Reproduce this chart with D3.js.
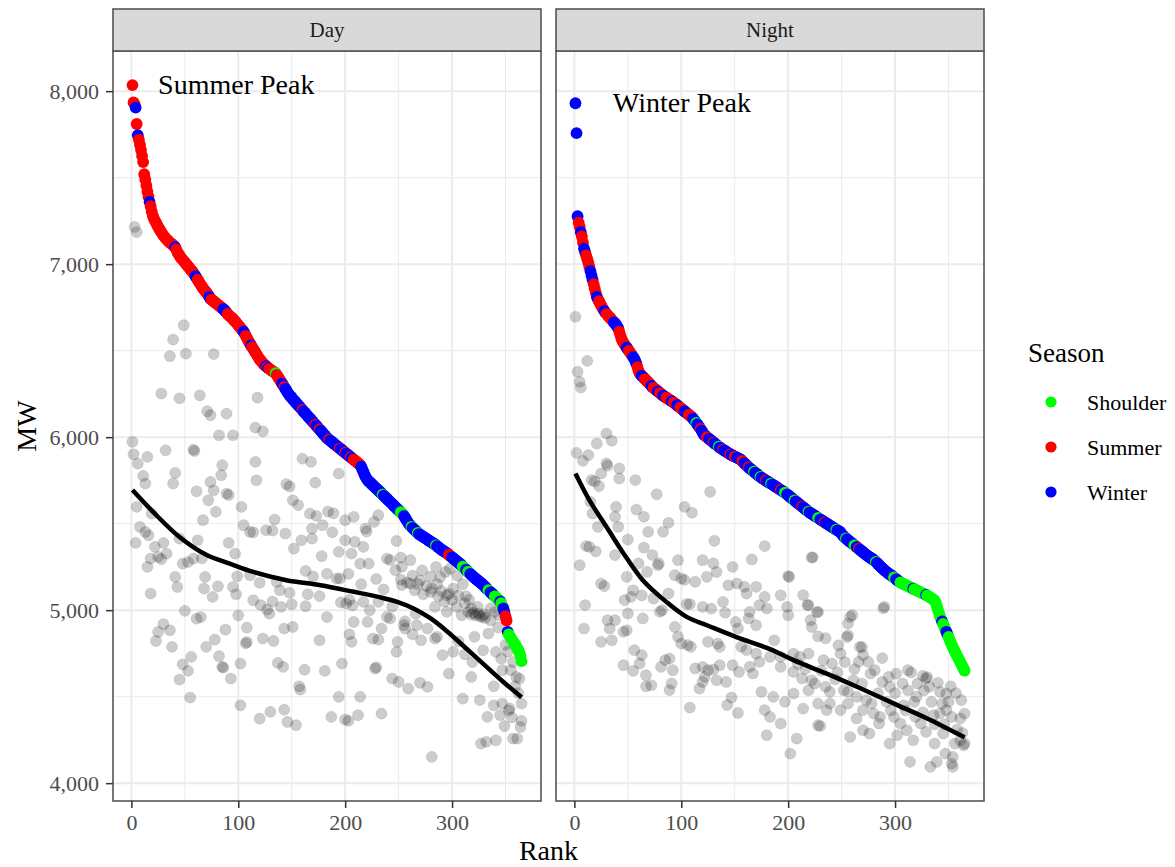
<!DOCTYPE html>
<html>
<head>
<meta charset="utf-8">
<script src="https://cdn.jsdelivr.net/npm/d3@7"></script>
<style>
  body { margin: 0; background: #fff; }
  text { font-family: "Liberation Serif", "Times New Roman", serif; }
</style>
</head>
<body>
<div id="chart"></div>
<script>
// ===== DATA =====
const seasons = ["Shoulder", "Summer", "Winter"];
const seasonCode = { G: "Shoulder", R: "Summer", W: "Winter" };

// sorted daily peak (MW) by rank 1..365
const dayMW = [
  8035,7935,7925,7905,7810,7745,7720,7690,7660,7625,
  7590,7520,7490,7455,7420,7390,7360,7335,7305,7280,
  7265,7250,7240,7228,7215,7205,7195,7185,7175,7165,
  7158,7150,7145,7138,7130,7125,7120,7115,7110,7105,
  7098,7085,7070,7060,7050,7040,7032,7025,7018,7010,
  7002,6995,6988,6980,6972,6965,6958,6950,6940,6930,
  6920,6910,6900,6890,6880,6870,6860,6852,6845,6838,
  6830,6820,6810,6800,6795,6790,6785,6780,6775,6770,
  6765,6760,6755,6750,6745,6740,6735,6728,6720,6712,
  6705,6700,6695,6690,6683,6676,6670,6662,6655,6648,
  6640,6632,6625,6618,6610,6598,6586,6574,6562,6550,
  6540,6530,6520,6510,6500,6490,6480,6470,6460,6450,
  6442,6435,6428,6420,6415,6410,6405,6400,6395,6390,
  6386,6382,6378,6374,6370,6360,6350,6340,6330,6320,
  6310,6300,6290,6280,6270,6260,6250,6242,6235,6228,
  6220,6213,6206,6199,6192,6185,6178,6171,6164,6157,
  6150,6143,6136,6129,6122,6115,6108,6101,6094,6087,
  6080,6073,6066,6059,6052,6045,6038,6031,6024,6017,
  6010,6002,5995,5990,5985,5980,5975,5970,5965,5960,
  5955,5950,5945,5940,5935,5930,5925,5920,5915,5910,
  5905,5900,5895,5890,5885,5880,5875,5870,5865,5860,
  5855,5850,5845,5840,5830,5815,5800,5785,5772,5760,
  5752,5746,5740,5734,5728,5722,5716,5710,5704,5698,
  5692,5686,5680,5674,5668,5662,5656,5650,5644,5638,
  5632,5626,5620,5614,5608,5602,5596,5590,5584,5578,
  5572,5566,5560,5555,5545,5535,5525,5515,5505,5495,
  5488,5482,5476,5470,5464,5458,5452,5446,5440,5436,
  5432,5428,5424,5420,5416,5412,5408,5404,5400,5396,
  5392,5388,5384,5380,5375,5370,5365,5360,5355,5350,
  5346,5342,5338,5334,5330,5325,5320,5315,5310,5305,
  5300,5295,5290,5285,5280,5275,5270,5264,5258,5252,
  5246,5240,5234,5228,5222,5216,5210,5204,5198,5192,
  5187,5182,5177,5172,5167,5162,5157,5152,5146,5140,
  5134,5128,5122,5116,5110,5104,5098,5092,5086,5080,
  5074,5068,5062,5056,5050,5040,5025,5010,4990,4965,
  4940,4875,4860,4850,4840,4830,4820,4810,4800,4790,
  4780,4770,4755,4735,4705
];

const daySeason = [
  "RRRWRWRRRR","RRRRRRWRRR","RRRRRRRRRR","RRRRRRRRRR","WRRRRRRRRR",
  "RRRRRRRRRW","WRRRRRRRRR","RRWWRRRRRR","RRRRRWWWWR","RRRRRRRRRR",
  "RRRRWWRRRR","RWRRRRRRRR","RRRRRWRWRR","RRRRGRRRRR","WWRWWWWWWW",
  "WWWWWWWWWR","WWWWWWWWWW","WRWWWRWWWW","WWWWRWWWWW","WWWWRWWWWR",
  "WWWWRWWRRR","RRRRWWWWWW","WWWWWWWWWW","WWWWGWWWWW","WWWWWWWWWW",
  "WGGGWWWWWW","WGWWWWWGWW","WWWWWWWWWW","WWWWGWWWWW","WWWWWWRRRW",
  "WWWWWWWWWG","GGWWGGWWWW","WWWWWWWWWW","WWWGGWWWWG","GGGGWGGWWR",
  "RWGGGGGGGG","GGGGG"
].join("");

const nightMW = [
  7930,7757,7277,7240,7215,7185,7160,7125,7090,7070,
  7050,7030,7010,6985,6960,6935,6910,6885,6860,6835,
  6810,6798,6786,6774,6762,6750,6740,6730,6720,6713,
  6706,6699,6692,6685,6678,6671,6664,6657,6650,6640,
  6630,6610,6590,6570,6555,6545,6535,6526,6517,6508,
  6499,6490,6481,6472,6463,6454,6440,6425,6405,6385,
  6370,6360,6354,6348,6342,6336,6330,6324,6318,6312,
  6304,6297,6290,6285,6280,6275,6270,6265,6260,6255,
  6250,6245,6240,6236,6232,6228,6224,6220,6216,6212,
  6208,6204,6200,6195,6190,6185,6180,6175,6170,6165,
  6160,6155,6150,6145,6140,6135,6130,6125,6120,6115,
  6107,6099,6091,6083,6075,6066,6057,6048,6038,6027,
  6015,6010,6005,6000,5995,5990,5985,5980,5975,5970,
  5965,5960,5955,5950,5945,5940,5936,5932,5928,5924,
  5920,5916,5912,5908,5904,5900,5897,5894,5891,5888,
  5885,5882,5879,5876,5873,5868,5862,5856,5850,5844,
  5838,5832,5826,5820,5815,5810,5805,5800,5795,5790,
  5785,5780,5775,5770,5766,5762,5758,5754,5750,5746,
  5742,5738,5735,5731,5727,5723,5719,5715,5711,5707,
  5703,5699,5695,5691,5687,5683,5679,5674,5669,5664,
  5659,5654,5649,5644,5639,5634,5629,5624,5619,5614,
  5609,5604,5599,5594,5589,5584,5579,5574,5569,5565,
  5561,5557,5553,5549,5545,5541,5537,5533,5529,5525,
  5521,5517,5513,5509,5505,5501,5497,5493,5489,5485,
  5481,5477,5473,5469,5465,5461,5458,5455,5448,5441,
  5434,5427,5420,5415,5410,5405,5400,5395,5390,5385,
  5380,5375,5370,5365,5360,5355,5350,5345,5340,5335,
  5330,5325,5320,5315,5311,5307,5303,5299,5295,5290,
  5285,5279,5273,5267,5261,5255,5249,5243,5237,5231,
  5226,5221,5216,5211,5207,5203,5199,5194,5189,5184,
  5179,5174,5169,5165,5161,5157,5154,5151,5148,5145,
  5142,5139,5136,5133,5130,5127,5124,5121,5118,5115,
  5112,5109,5106,5103,5100,5097,5094,5091,5088,5085,
  5081,5077,5073,5069,5065,5060,5055,5045,5025,5005,
  4985,4965,4950,4935,4920,4905,4890,4875,4860,4845,
  4830,4815,4800,4786,4772,4760,4748,4736,4724,4712,
  4700,4688,4676,4664,4650
];

const nightSeason = [
  "WWWRRWRRWW","RRRRWWWRRR","WWRRRRRWWR","RRRRRRWWWW","WRRRRRRRWW",
  "RRRRWWWWRR","RRWWWRRRRR","RWWRRRRWWR","RRWWWRRRRR","WWRRRWWWRR",
  "RRWWWWRRRR","WWWGWWWRWW","WWWRRWWWWR","WWWWGWWWRW","WWWWWRWWWR",
  "RWWWWWRRWW","WWRWWWWGWW","WWWGWWWWRW","WWWGWWWWWW","WWRWWWGGWW",
  "WWWWWGWWWW","WWRWWWWWGW","WWWWWWWGGW","WWWRWWWWWW","WWWWGWWWWW",
  "WWWGWWWWWW","WGGWWRWWWW","WWWWWWWWWW","WGWWWWWWWW","WWWWWWWWGG",
  "WWWWGGGGGG","GGGGGGWGGG","GGGGGGGGWG","GGGGGGGGGG","GGGWGGGWWG",
  "GGGGGGGGGG","GGGGG"
].join("");

// grey scatter: [rank, MW]
const dayGray = [
  [3,7215],[5,7185],[49,6647],[39,6564],[36,6468],[51,6483],[77,6480],[28,6252],[45,6225],[64,6242],
  [118,6229],[71,6150],[74,6127],[89,6136],[82,6011],[95,6011],[116,6055],[123,6034],[1,5973],[2,5901],
  [6,5847],[15,5886],[32,5924],[58,5928],[59,5920],[85,5838],[116,5857],[160,5876],[168,5857],[11,5776],
  [13,5732],[41,5793],[39,5732],[84,5780],[74,5741],[77,5693],[61,5687],[89,5674],[91,5666],[117,5751],
  [145,5728],[148,5715],[172,5737],[72,5635],[151,5635],[156,5607],[5,5597],[19,5558],[79,5568],[103,5597],
  [67,5520],[134,5524],[167,5558],[173,5545],[184,5570],[8,5481],[13,5452],[16,5433],[4,5389],[30,5389],
  [45,5414],[62,5404],[91,5389],[105,5491],[111,5452],[114,5450],[126,5462],[132,5460],[144,5443],[159,5404],
  [169,5414],[169,5472],[179,5491],[152,5356],[22,5366],[18,5298],[25,5308],[28,5295],[33,5327],[15,5250],
  [48,5269],[53,5278],[58,5298],[66,5300],[97,5327],[178,5312],[41,5192],[43,5134],[69,5192],[99,5196],
  [111,5202],[120,5158],[136,5163],[163,5227],[170,5196],[183,5210],[18,5096],[68,5125],[81,5138],[76,5077],
  [95,5134],[98,5092],[139,5115],[148,5100],[165,5092],[176,5081],[114,5057],[121,5029],[127,5003],[129,4980],
  [132,5050],[140,5019],[150,5034],[163,5023],[50,4996],[61,4951],[65,4960],[100,4970],[183,4960],[30,4919],
  [36,4884],[25,4874],[23,4822],[38,4788],[70,4788],[78,4830],[88,4888],[108,4899],[108,4816],[107,4808],
  [123,4836],[133,4822],[143,4894],[151,4903],[176,4826],[56,4730],[48,4687],[53,4649],[45,4599],[82,4734],
  [85,4672],[86,4668],[102,4691],[93,4605],[137,4695],[142,4672],[162,4656],[181,4649],[157,4560],[158,4541],
  [55,4495],[102,4450],[120,4373],[130,4412],[143,4425],[146,4354],[154,4335],[187,4383],
  [194,5790],[189,5560],[200,5520],[208,5539],[188,5450],[231,5549],[227,5510],[219,5472],[220,5455],[200,5404],
  [209,5395],[194,5337],[206,5327],[217,5366],[248,5400],[239,5298],[242,5290],[252,5304],[261,5289],[253,5250],
  [247,5231],[214,5269],[222,5269],[192,5183],[195,5183],[252,5177],[261,5154],[270,5173],[280,5196],[289,5192],
  [294,5221],[286,5150],[281,5125],[253,5145],[265,5115],[273,5092],[280,5105],[301,5125],[295,5086],[313,5081],
  [324,5019],[328,4961],[330,4975],[331,4955],[201,5038],[196,5045],[204,5060],[217,5048],[231,5048],[207,5028],
  [223,5000],[239,4961],[242,4952],[255,4913],[267,4913],[284,5019],[293,5050],[304,5019],[295,4990],[309,4971],
  [318,5009],[336,4942],[344,4971],[208,4932],[221,4932],[234,4894],[256,4935],[256,4894],[277,4894],[286,4846],
  [321,4846],[334,4865],[204,4860],[206,4817],[226,4836],[231,4830],[249,4817],[248,4759],[271,4826],[284,4836],
  [301,4759],[312,4745],[329,4768],[341,4759],[346,4720],[197,4691],[228,4662],[229,4670],[297,4633],[318,4614],
  [347,4653],[355,4653],[360,4614],[363,4605],[244,4605],[250,4585],[259,4547],[270,4580],[277,4557],[339,4560],
  [194,4499],[214,4499],[234,4402],[200,4368],[203,4360],[212,4393],[310,4489],[347,4460],[354,4431],[365,4460],
  [333,4383],[345,4393],[353,4420],[364,4325],[327,4229],[332,4239],[341,4248],[357,4258],[361,4258],[281,4152],
  [315,4990],[318,4975],[320,4985],[322,4970],[325,4980],[326,4965],[312,5040],[316,5060],[306,5085],[300,5060],
  [297,5095],[290,5110],[287,5080],[276,5140],[268,5150],[258,5160],[263,5200],[272,5230],[285,5250],[298,5240],
  [305,5200],[310,5150],[336,5010],[340,4990],[343,4900],[350,4800],[352,4760],[357,4700],[359,4560],[362,4520],
  [365,4360],[356,4380],[349,4330],[339,4450],[326,4480],[319,4700],[306,4820],[291,4740],[263,4860],[266,4980],
  [244,5020],[236,5120],[229,5180],[215,5150],[203,5210]
];

const nightGray = [
  [1,6696],[12,6441],[3,6378],[5,6320],[6,6287],[30,6021],[21,5963],[35,5979],[2,5909],[13,5896],
  [8,5863],[30,5848],[31,5835],[42,5819],[25,5790],[16,5752],[19,5745],[23,5717],[42,5761],[57,5752],
  [77,5670],[127,5684],[103,5597],[110,5563],[39,5597],[58,5582],[65,5540],[15,5626],[17,5559],[38,5540],
  [41,5482],[22,5482],[69,5453],[83,5453],[88,5505],[50,5408],[131,5401],[11,5370],[14,5366],[20,5340],
  [38,5318],[65,5362],[73,5318],[178,5370],[5,5260],[60,5270],[78,5260],[79,5270],[68,5221],[97,5289],
  [120,5289],[130,5270],[133,5221],[166,5293],[148,5250],[94,5202],[100,5183],[103,5175],[113,5164],[49,5193],
  [124,5193],[25,5154],[28,5139],[144,5144],[152,5154],[159,5135],[161,5096],[170,5135],[55,5115],[53,5077],
  [47,5058],[63,5086],[74,5067],[88,5096],[178,5077],[10,5029],[50,4981],[64,4952],[80,4990],[82,5000],
  [105,5035],[108,5035],[120,5019],[128,5009],[139,5048],[141,4985],[164,4990],[163,4952],[173,5029],[180,5010],
  [9,4894],[33,4894],[31,4942],[38,4942],[49,4884],[46,4875],[25,4817],[35,4826],[94,4903],[151,4932],
  [153,4894],[170,4913],[97,4846],[100,4807],[106,4798],[109,4788],[125,4817],[134,4807],[136,4788],[156,4788],
  [161,4769],[170,4749],[173,4701],[183,4730],[56,4769],[63,4740],[61,4692],[46,4682],[55,4649],[85,4711],
  [89,4720],[81,4672],[92,4653],[67,4624],[72,4566],[67,4560],[91,4576],[89,4538],[113,4663],[120,4672],
  [125,4653],[130,4657],[136,4682],[122,4614],[120,4585],[133,4595],[142,4585],[148,4682],[154,4643],[164,4672],
  [167,4634],[175,4528],[117,4547],[108,4437],[147,4495],[143,4451],[153,4406],[178,4422],[180,4277],
  [200,5197],[214,5087],[223,5306],[218,5029],[227,4988],[235,4838],[260,4971],[255,4844],[289,5011],[269,4786],
  [288,4723],[222,5304],[201,5192],[193,5086],[199,5019],[200,4971],[219,5029],[228,4990],[221,4942],[222,4903],
  [228,4849],[258,4961],[256,4923],[256,4855],[290,5019],[187,4826],[193,4730],[205,4749],[211,4730],[219,4749],
  [233,4711],[241,4691],[249,4749],[247,4797],[267,4788],[270,4740],[266,4701],[275,4701],[281,4653],[277,4634],
  [193,4672],[205,4643],[213,4605],[222,4595],[225,4576],[235,4557],[239,4528],[252,4537],[256,4528],[261,4595],
  [264,4499],[269,4576],[273,4480],[278,4460],[288,4585],[295,4557],[294,4614],[301,4633],[312,4653],[315,4640],
  [307,4576],[312,4537],[321,4576],[329,4605],[327,4537],[332,4557],[342,4528],[348,4518],[186,4499],[197,4470],
  [205,4518],[214,4431],[219,4537],[228,4460],[236,4422],[239,4460],[249,4422],[256,4460],[264,4374],[270,4422],
  [280,4402],[285,4345],[286,4383],[299,4383],[305,4345],[311,4306],[319,4383],[324,4345],[336,4393],[342,4402],
  [348,4422],[353,4383],[361,4374],[365,4402],[183,4383],[193,4345],[208,4258],[202,4171],[228,4335],[230,4330],
  [258,4267],[270,4306],[276,4287],[295,4229],[302,4277],[317,4248],[329,4296],[337,4229],[345,4287],[356,4229],
  [361,4248],[364,4219],[314,4123],[333,4094],[339,4123],[347,4171],[353,4113],[354,4094],[354,4152],[365,4229],
  [330,4613],[326,4620],[340,4580],[352,4560],[357,4520],[362,4480],[350,4470],[344,4460],[334,4470],[318,4470],
  [308,4450],[292,4470],[284,4520],[246,4640],[244,4600],[231,4650],[216,4660],[209,4690],[262,4660],[253,4700],
  [300,4520],[320,4500],[337,4340],[358,4310],[363,4290],[346,4340],[326,4410],[310,4420],[296,4420]
];

// smooth trend
const dayLoessRank = [1,20,45,70,92,114,145,177,208,230,248,264,280,296,313,330,348,365];
const dayLoessMW   = [5694,5570,5423,5320,5269,5221,5173,5144,5106,5078,5050,5010,4952,4874,4780,4685,4585,4497];
const nightLoessRank = [1,14,30,46,64,86,105,124,151,183,205,236,268,299,330,365];
const nightLoessMW   = [5790,5636,5482,5328,5173,5048,4961,4913,4846,4775,4711,4633,4547,4460,4374,4265];

const xTicks = [0, 100, 200, 300];
const yTicks = [4000, 5000, 6000, 7000, 8000];
const xMinor = [50, 150, 250, 350];
const yMinor = [4500, 5500, 6500, 7500];

// ===== SIZE =====
const width = 1175;
const height = 867;
const panelTop = 51;
const panelBottom = 801;
const panelLeft = 113;
const panelW = 428;
const panelGap = 15;
const stripTop = 9;

const color = d3.scaleOrdinal()
  .domain(seasons)
  .range(["#00ff00", "#ff0000", "#0000ff"]);

d3.select("#chart").selectAll("*").remove();

const svg = d3.select("#chart")
  .append("svg")
  .attr("width", width)
  .attr("height", height);

// shared y scale (ggplot style 5% expansion)
const allMW = dayMW.concat(nightMW, dayGray.map(d => d[1]), nightGray.map(d => d[1]));
const [yLo, yHi] = d3.extent(allMW);
const yPad = (yHi - yLo) * 0.05;
const y = d3.scaleLinear()
  .domain([yLo - yPad, yHi + yPad])
  .range([panelBottom, panelTop]);

const xPad = (365 - 1) * 0.05;

const panels = [
  { name: "Day", mw: dayMW, season: daySeason, gray: dayGray,
    lRank: dayLoessRank, lMW: dayLoessMW, note: "Summer Peak", noteRank: 25, noteMW: 8035 },
  { name: "Night", mw: nightMW, season: nightSeason, gray: nightGray,
    lRank: nightLoessRank, lMW: nightLoessMW, note: "Winter Peak", noteRank: 36, noteMW: 7930 }
];

panels.forEach((p, i) => {
  const left = panelLeft + i * (panelW + panelGap);
  const x = d3.scaleLinear()
    .domain([1 - xPad, 365 + xPad])
    .range([left, left + panelW]);

  const g = svg.append("g");

  g.append("rect")
    .attr("x", left).attr("y", panelTop)
    .attr("width", panelW).attr("height", panelBottom - panelTop)
    .attr("fill", "#fff");

  // minor grid
  g.selectAll(".ym").data(yMinor).join("line")
    .attr("x1", left).attr("x2", left + panelW)
    .attr("y1", d => y(d)).attr("y2", d => y(d))
    .attr("stroke", "#ebebeb").attr("stroke-width", 1);
  g.selectAll(".xm").data(xMinor).join("line")
    .attr("y1", panelTop).attr("y2", panelBottom)
    .attr("x1", d => x(d)).attr("x2", d => x(d))
    .attr("stroke", "#ebebeb").attr("stroke-width", 1);

  // major grid
  g.selectAll(".yM").data(yTicks).join("line")
    .attr("x1", left).attr("x2", left + panelW)
    .attr("y1", d => y(d)).attr("y2", d => y(d))
    .attr("stroke", "#ebebeb").attr("stroke-width", 2);
  g.selectAll(".xM").data(xTicks).join("line")
    .attr("y1", panelTop).attr("y2", panelBottom)
    .attr("x1", d => x(d)).attr("x2", d => x(d))
    .attr("stroke", "#ebebeb").attr("stroke-width", 2);

  // grey scatter
  g.append("g").selectAll("circle")
    .data(p.gray)
    .join("circle")
    .attr("cx", d => x(d[0]))
    .attr("cy", d => y(d[1]))
    .attr("r", 5.6)
    .attr("fill", "#000")
    .attr("fill-opacity", 0.2)
    .attr("stroke", "#000")
    .attr("stroke-opacity", 0.1)
    .attr("stroke-width", 0.8);

  // ranked curve coloured by season
  const ranked = p.mw.map((v, k) => ({ rank: k + 1, mw: v, season: seasonCode[p.season[k]] || "Winter" }));
  g.append("g").selectAll("circle")
    .data(ranked)
    .join("circle")
    .attr("cx", d => x(d.rank))
    .attr("cy", d => y(d.mw))
    .attr("r", 5.9)
    .attr("fill", d => color(d.season));

  // trend line
  const line = d3.line()
    .x(d => x(d[0]))
    .y(d => y(d[1]))
    .curve(d3.curveCatmullRom);
  g.append("path")
    .datum(p.lRank.map((r, k) => [r, p.lMW[k]]))
    .attr("d", line)
    .attr("fill", "none")
    .attr("stroke", "#000")
    .attr("stroke-width", 4.5);

  // annotation
  g.append("text")
    .attr("x", x(p.noteRank))
    .attr("y", y(p.noteMW))
    .attr("dy", "0.33em")
    .style("font-size", "28px")
    .attr("fill", "#000")
    .text(p.note);

  // border
  g.append("rect")
    .attr("x", left).attr("y", panelTop)
    .attr("width", panelW).attr("height", panelBottom - panelTop)
    .attr("fill", "none")
    .attr("stroke", "#555")
    .attr("stroke-width", 1.6);

  // strip
  g.append("rect")
    .attr("x", left).attr("y", stripTop)
    .attr("width", panelW).attr("height", panelTop - stripTop)
    .attr("fill", "#d9d9d9")
    .attr("stroke", "#555")
    .attr("stroke-width", 1.6);
  g.append("text")
    .attr("x", left + panelW / 2)
    .attr("y", (stripTop + panelTop) / 2)
    .attr("dy", "0.35em")
    .attr("text-anchor", "middle")
    .style("font-size", "21px")
    .attr("fill", "#1a1a1a")
    .text(p.name);

  // x axis
  const xAxis = svg.append("g")
    .attr("transform", `translate(0,${panelBottom})`)
    .call(d3.axisBottom(x).tickValues(xTicks).tickSize(7).tickPadding(6));
  xAxis.select(".domain").remove();
  xAxis.selectAll("line").attr("stroke", "#333").attr("stroke-width", 1.5);
  xAxis.selectAll("text")
    .style("font-size", "22px")
    .style("font-family", "'Liberation Serif', serif")
    .attr("fill", "#4d4d4d");

  if (i === 0) {
    const yAxis = svg.append("g")
      .attr("transform", `translate(${left},0)`)
      .call(d3.axisLeft(y).tickValues(yTicks).tickFormat(d3.format(",")).tickSize(7).tickPadding(7));
    yAxis.select(".domain").remove();
    yAxis.selectAll("line").attr("stroke", "#333").attr("stroke-width", 1.5);
    yAxis.selectAll("text")
      .style("font-size", "22px")
      .style("font-family", "'Liberation Serif', serif")
      .attr("fill", "#4d4d4d");
  }
});

// axis titles
svg.append("text")
  .attr("x", panelLeft + (2 * panelW + panelGap) / 2)
  .attr("y", 860)
  .attr("text-anchor", "middle")
  .style("font-size", "28px")
  .text("Rank");

svg.append("text")
  .attr("transform", `translate(36,${(panelTop + panelBottom) / 2}) rotate(-90)`)
  .attr("text-anchor", "middle")
  .style("font-size", "28px")
  .text("MW");

// legend
const legend = svg.append("g");
legend.append("text")
  .attr("x", 1028)
  .attr("y", 362)
  .style("font-size", "27px")
  .text("Season");

const keys = legend.selectAll("g.key")
  .data(seasons)
  .join("g")
  .attr("class", "key")
  .attr("transform", (d, i) => `translate(0,${402 + i * 45})`);

keys.append("circle")
  .attr("cx", 1051)
  .attr("cy", 0)
  .attr("r", 5.6)
  .attr("fill", d => color(d));

keys.append("text")
  .attr("x", 1087)
  .attr("y", 0)
  .attr("dy", "0.35em")
  .style("font-size", "22px")
  .text(d => d);
</script>
</body>
</html>
